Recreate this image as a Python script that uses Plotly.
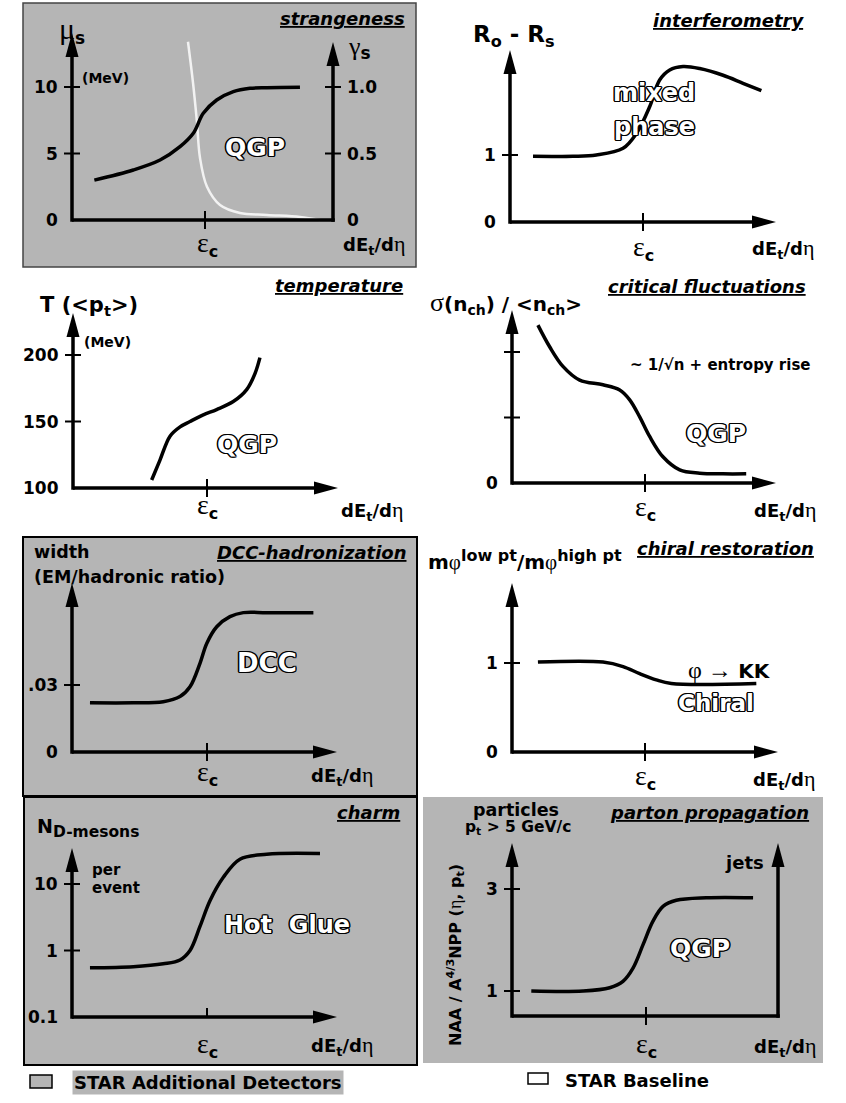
import math
import plotly.graph_objects as go

W, H = 846, 1103
FONT = "DejaVu Sans"
GRAY = "#b5b5b5"

# ---------------- data ----------------
# x = dE_t/deta in units of eps_c (eps_c = 1)
EPS_C = 1.0

# strangeness: gamma_s (black, right axis) and mu_s (white, left axis, MeV)
strange_gamma_x = [0.168, 0.461, 0.662, 0.812, 0.912, 0.987, 1.088, 1.213, 1.338, 1.464, 1.714]
strange_gamma = [0.30, 0.376, 0.451, 0.551, 0.652, 0.802, 0.902, 0.965, 0.99, 0.995, 0.998]
strange_mu_x = [0.872, 0.91, 0.94, 0.962, 1.015, 1.113, 1.263, 1.466, 1.714, 1.865]
strange_mu = [13.4, 10.3, 7.3, 4.7, 2.5, 1.13, 0.53, 0.38, 0.23, 0.0]
strange_mu_ticks = [5, 10]
strange_gamma_ticks = [0.5, 1.0]

# interferometry: R_o - R_s
interf_x = [0.173, 0.474, 0.649, 0.850, 0.950, 1.050, 1.125, 1.201, 1.301, 1.426, 1.602, 1.752, 1.890]
interf_y = [0.98, 0.98, 1.0, 1.10, 1.32, 1.72, 2.12, 2.27, 2.32, 2.29, 2.19, 2.07, 1.96]
interf_ticks = [1]

# temperature: T (<p_t>) in MeV
temp_x = [0.587, 0.649, 0.724, 0.799, 0.873, 0.972, 1.072, 1.196, 1.296, 1.358, 1.395]
temp_T = [106, 121, 139, 146, 150, 155, 159, 165, 174, 186, 198]
temp_ticks = [150, 200]

# critical fluctuations: sigma(n_ch)/<n_ch>
fluct_x = [0.195, 0.283, 0.383, 0.509, 0.684, 0.810, 0.885, 0.960, 1.035, 1.135, 1.261, 1.411, 1.586, 1.761]
fluct_y = [2.41, 2.08, 1.78, 1.57, 1.50, 1.42, 1.27, 1.01, 0.71, 0.40, 0.20, 0.15, 0.14, 0.14]
fluct_ticks = [1, 2]

# DCC-hadronization: width (EM/hadronic ratio)
dcc_x = [0.133, 0.454, 0.676, 0.8, 0.874, 0.948, 0.998, 1.072, 1.170, 1.269, 1.442, 1.788]
dcc_w = [0.0220, 0.0220, 0.0225, 0.0248, 0.0292, 0.0397, 0.0486, 0.0561, 0.0606, 0.0624, 0.0624, 0.0624]
dcc_ticks = [0.03]

# chiral restoration: m_phi(low pt)/m_phi(high pt)
chiral_x = [0.195, 0.684, 0.835, 0.960, 1.085, 1.198, 1.837]
chiral_r = [1.01, 1.01, 0.96, 0.88, 0.81, 0.77, 0.77]
chiral_ticks = [1]

# charm: N_D-mesons per event (log)
charm_x = [0.133, 0.454, 0.676, 0.8, 0.874, 0.948, 1.022, 1.121, 1.244, 1.442, 1.837]
charm_n = [0.55, 0.57, 0.63, 0.72, 1.0, 2.3, 5.6, 12.6, 23.6, 28.0, 28.7]
charm_ticks = [1, 10]

# parton propagation: N_AA / A^4/3 N_pp
parton_x = [0.144, 0.530, 0.729, 0.828, 0.903, 0.978, 1.052, 1.127, 1.226, 1.450, 1.799]
parton_r = [1.0, 1.0, 1.065, 1.19, 1.45, 1.91, 2.37, 2.66, 2.78, 2.83, 2.83]
parton_ticks = [1, 3]

# ---------------- helpers ----------------
fig = go.Figure()
layout = {}
shapes = []
annos = []


class P:
    pass


def panel(n, box, origin, ux, uy, y0=0.0, ylog=False):
    L, R, T, B = box
    ox, oy = origin
    p = P()
    p.xr = 'x' if n == 1 else f'x{n}'
    p.yr = 'y' if n == 1 else f'y{n}'
    p.ox, p.oy, p.ux, p.uy, p.y0, p.log = ox, oy, ux, uy, y0, ylog
    p.y0s = 10 ** y0 if ylog else y0          # origin value in data units (for shapes)
    layout['xaxis' if n == 1 else f'xaxis{n}'] = dict(
        domain=[L / W, R / W], range=[(L - ox) / ux, (R - ox) / ux],
        visible=False, fixedrange=True, anchor=p.yr)
    layout['yaxis' if n == 1 else f'yaxis{n}'] = dict(
        domain=[1 - B / H, 1 - T / H], range=[y0 - (B - oy) / uy, y0 + (oy - T) / uy],
        visible=False, fixedrange=True, anchor=p.xr, type='log' if ylog else 'linear')
    return p


def X(p, px):
    return (px - p.ox) / p.ux


def Ys(p, py):
    # pixel row -> y data value usable by shapes (data units, also on log axes)
    v = p.y0 + (p.oy - py) / p.uy
    return 10 ** v if p.log else v


def V(p, v):
    # data value -> annotation coordinate (log10 on log axes)
    return math.log10(v) if p.log else v


LW = 3.5


def vaxis(p, xd, tip_py, arrow=True):
    shapes.append(dict(type='line', xref=p.xr, yref=p.yr, x0=xd, x1=xd,
                       y0=Ys(p, p.oy + LW / 2), y1=Ys(p, tip_py + (12 if arrow else 0)),
                       line=dict(color='black', width=LW)))
    if arrow:
        shapes.append(dict(type='path', xref=p.xr, yref=p.yr, xsizemode='pixel', ysizemode='pixel',
                           xanchor=xd, yanchor=Ys(p, tip_py), path='M-6.5,-24 L6.5,-24 L0,0 Z',
                           fillcolor='black', line=dict(width=0)))


def haxis(p, end_px, arrow=True):
    x1 = X(p, end_px - 12) if arrow else X(p, end_px + LW / 2)
    shapes.append(dict(type='line', xref=p.xr, yref=p.yr, x0=0, x1=x1, y0=p.y0s, y1=p.y0s,
                       line=dict(color='black', width=LW)))
    if arrow:
        shapes.append(dict(type='path', xref=p.xr, yref=p.yr, xsizemode='pixel', ysizemode='pixel',
                           xanchor=X(p, end_px), yanchor=p.y0s, path='M-24,-6.5 L-24,6.5 L0,0 Z',
                           fillcolor='black', line=dict(width=0)))


def ytick(p, v, xd=0.0, yref=None, half=8):
    shapes.append(dict(type='line', xref=p.xr, yref=yref or p.yr, xsizemode='pixel', xanchor=xd,
                       x0=-half, x1=half, y0=v, y1=v, line=dict(color='black', width=2)))


def xtick(p, v):
    shapes.append(dict(type='line', xref=p.xr, yref=p.yr, ysizemode='pixel', yanchor=p.y0s,
                       y0=-9, y1=9, x0=v, x1=v, line=dict(color='black', width=2)))


def ylab(p, v, s, gap=12, xd=0.0, side='left', yref=None, raw=False):
    annos.append(dict(xref=p.xr, yref=yref or p.yr, x=xd, y=v if raw else V(p, v),
                      text=f'<b>{s}</b>', showarrow=False,
                      xanchor='right' if side == 'left' else 'left', yanchor='middle',
                      xshift=-gap if side == 'left' else gap,
                      font=dict(family=FONT, size=17, color='black')))


SHADOW = ("1px 1px 0 #000, -1px -1px 0 #000, 1px -1px 0 #000, -1px 1px 0 #000, "
          "0 1.4px 0 #000, 1.4px 0 0 #000, 0 -1.4px 0 #000, -1.4px 0 0 #000")


def T(px, py, s, size, anchor='center', outline=False, angle=0, bg=None):
    f = dict(family=FONT, size=size, color='white' if outline else 'black')
    if outline:
        f['shadow'] = SHADOW
    a = dict(xref='paper', yref='paper', x=px / W, y=1 - py / H, text=s, showarrow=False,
             xanchor=anchor, yanchor='middle', font=f, textangle=angle)
    if bg:
        a['bgcolor'] = bg
    annos.append(a)


def G(s, size):
    return (f'<span style="font-family:Liberation Serif;font-weight:normal;font-size:{size}px">'
            f'{s}</span>')


def S(s, size):
    return f'<span style="font-size:{size}px">{s}</span>'


def title(px, py, s):
    T(px, py, f'<b><i><u>{s}</u></i></b>', 18, anchor='right')


EPS = f'{G("ε", 28)}<sub><b>{S("c", 16)}</b></sub>'
DED = f'<b>dE<sub>{S("t", 13)}</sub>/d</b>{G("η", 22)}'


def curve(p, xs, ys, color='black', width=3.5, yaxis=None):
    fig.add_trace(go.Scatter(x=xs, y=ys, xaxis=p.xr, yaxis=yaxis or p.yr, mode='lines',
                             line=dict(color=color, width=width, shape='spline', smoothing=1.0),
                             hoverinfo='skip', showlegend=False))


def box(L, T_, R, B, fill, lc, lw):
    shapes.append(dict(type='rect', xref='paper', yref='paper', x0=L / W, x1=R / W,
                       y0=1 - B / H, y1=1 - T_ / H, fillcolor=fill, layer='below',
                       line=dict(color=lc, width=lw)))


# ---------------- background boxes ----------------
box(23, 3, 416, 267, GRAY, '#444', 1.5)
box(23, 537, 417, 796, GRAY, 'black', 2)
box(24, 797, 417, 1065, GRAY, 'black', 2)
box(423, 797, 823, 1063, GRAY, GRAY, 0)

# ---------------- panel 1: strangeness ----------------
p1 = panel(1, (23, 416, 3, 267), (72, 220), 133, 13.3)
layout['yaxis9'] = dict(overlaying='y', anchor='x', visible=False, fixedrange=True,
                        range=[r * 0.1 for r in layout['yaxis']['range']])
curve(p1, strange_mu_x, strange_mu, color='#f2f2f2', width=2.5)
curve(p1, strange_gamma_x, strange_gamma, yaxis='y9')
vaxis(p1, 0, 33)
xr1 = X(p1, 333)
vaxis(p1, xr1, 42)
haxis(p1, 333, arrow=False)
xtick(p1, EPS_C)
for v in strange_mu_ticks:
    ytick(p1, v)
    ylab(p1, v, str(v))
ylab(p1, 0, '0')
for v in strange_gamma_ticks:
    ytick(p1, v, xd=xr1, yref='y9')
    ylab(p1, v, f'{v:.1f}', xd=xr1, side='right', yref='y9', raw=True)
ylab(p1, 0, '0', xd=xr1, side='right')
T(72, 30, f'{G("μ", 30)}<sub><b>{S("s", 17)}</b></sub>', 22)
T(80, 78, '<b>(MeV)</b>', 14, anchor='left')
T(346, 47, f'{G("γ", 26)}<sub><b>{S("s", 17)}</b></sub>', 20, anchor='left')
T(207, 244, EPS, 22)
T(407, 244, DED, 18, anchor='right')
title(407, 19, 'strangeness')
T(255, 147, '<b>QGP</b>', 25, outline=True)

# ---------------- panel 2: interferometry ----------------
p2 = panel(2, (423, 846, 0, 268), (510, 222), 133, 67)
curve(p2, interf_x, interf_y)
vaxis(p2, 0, 50)
haxis(p2, 776)
xtick(p2, EPS_C)
for v in interf_ticks:
    ytick(p2, v)
    ylab(p2, v, str(v))
ylab(p2, 0, '0')
T(514, 36, '<b>R<sub>o</sub> - R<sub>s</sub></b>', 23)
title(806, 21, 'interferometry')
T(643, 248, EPS, 22)
T(816, 248, DED, 18, anchor='right')
T(654, 93, '<b>mixed</b>', 24, outline=True)
T(654, 127, '<b>phase</b>', 24, outline=True)

# ---------------- panel 3: temperature ----------------
p3 = panel(3, (0, 423, 270, 528), (73, 488), 134, 66.5 / 50, y0=100)
curve(p3, temp_x, temp_T)
vaxis(p3, 0, 313)
haxis(p3, 338)
xtick(p3, EPS_C)
for v in temp_ticks:
    ytick(p3, v)
    ylab(p3, v, str(v))
ylab(p3, 100, '100')
T(38, 306, '<b>T (&lt;p<sub>t</sub>&gt;)</b>', 21, anchor='left')
T(82, 342, '<b>(MeV)</b>', 14, anchor='left')
title(405, 285, 'temperature')
T(207, 506, EPS, 22)
T(405, 510, DED, 18, anchor='right')
T(247, 445, '<b>QGP</b>', 25, outline=True)

# ---------------- panel 4: critical fluctuations ----------------
p4 = panel(4, (423, 846, 270, 528), (512, 483), 133, 65.5)
curve(p4, fluct_x, fluct_y)
vaxis(p4, 0, 310)
haxis(p4, 776)
xtick(p4, EPS_C)
for v in fluct_ticks:
    ytick(p4, v)
ylab(p4, 0, '0')
T(428, 303, f'{G("σ", 26)}<b>(n<sub>ch</sub>) / &lt;n<sub>ch</sub>&gt;</b>', 20, anchor='left')
title(808, 287, 'critical fluctuations')
T(628, 365, '<b>~ 1/√n + entropy rise</b>', 15, anchor='left')
T(716, 433, '<b>QGP</b>', 25, outline=True)
T(645, 508, EPS, 22)
T(818, 510, DED, 18, anchor='right')

# ---------------- panel 5: DCC-hadronization ----------------
p5 = panel(5, (23, 417, 537, 795), (72, 752), 135, 67 / 0.03)
curve(p5, dcc_x, dcc_w)
vaxis(p5, 0, 583)
haxis(p5, 337)
xtick(p5, EPS_C)
for v in dcc_ticks:
    ytick(p5, v)
    ylab(p5, v, '.03')
ylab(p5, 0, '0')
T(32, 552, '<b>width</b>', 17.5, anchor='left')
T(32, 577, '<b>(EM/hadronic ratio)</b>', 17.5, anchor='left')
title(408, 552, 'DCC-hadronization')
T(207, 773, EPS, 22)
T(375, 775, DED, 18, anchor='right')
T(267, 663, '<b>DCC</b>', 26, outline=True)

# ---------------- panel 6: chiral restoration ----------------
p6 = panel(6, (423, 846, 530, 795), (512, 752), 133, 89)
curve(p6, chiral_x, chiral_r)
vaxis(p6, 0, 583)
haxis(p6, 778)
xtick(p6, EPS_C)
for v in chiral_ticks:
    ytick(p6, v)
    ylab(p6, v, str(v))
ylab(p6, 0, '0')
T(426, 560,
  f'<b>m</b>{G("φ", 21)}<b><sup>{S("low pt", 16)}</sup>/m</b>{G("φ", 21)}'
  f'<b><sup>{S("high pt", 16)}</sup></b>', 20, anchor='left')
title(816, 548, 'chiral restoration')
T(686, 670, f'{G("φ →", 24)} <b>KK</b>', 20, anchor='left')
T(716, 703, '<b>Chiral</b>', 23, outline=True)
T(645, 777, EPS, 22)
T(817, 779, DED, 18, anchor='right')

# ---------------- panel 7: charm ----------------
p7 = panel(7, (24, 417, 797, 1065), (72, 1017), 135, 66.5, y0=-1, ylog=True)
curve(p7, charm_x, charm_n)
vaxis(p7, 0, 848)
haxis(p7, 337)
xtick(p7, EPS_C)
for v in charm_ticks:
    ytick(p7, v)
    ylab(p7, v, str(v))
ylab(p7, 0.1, '0.1')
T(35, 826, '<b>N</b>', 19, anchor='left')
T(51, 832, '<b>D-mesons</b>', 15.5, anchor='left')
T(90, 870, '<b>per</b>', 15, anchor='left')
T(90, 888, '<b>event</b>', 15, anchor='left')
title(402, 812, 'charm')
T(207, 1045, EPS, 22)
T(375, 1045, DED, 18, anchor='right')
T(287, 925, '<b>Hot\u00a0 Glue</b>', 24, outline=True)

# ---------------- panel 8: parton propagation ----------------
p8 = panel(8, (423, 823, 797, 1063), (512, 1016), 134, 51, y0=0.51)
curve(p8, parton_x, parton_r)
vaxis(p8, 0, 843)
xr8 = X(p8, 778)
vaxis(p8, xr8, 843)
haxis(p8, 778, arrow=False)
xtick(p8, EPS_C)
for v in parton_ticks:
    ytick(p8, v)
    ylab(p8, v, str(v))
T(516, 810, '<b>particles</b>', 17.5)
T(518, 828, '<b>p<sub>t</sub> &gt; 5 GeV/c</b>', 15.5)
title(811, 812, 'parton propagation')
T(766, 863, '<b>jets</b>', 18, anchor='right')
T(455, 955, f'<b>NAA / A<sup>4/3</sup>NPP (</b>{G("η", 18)}<b>, p<sub>t</sub>)</b>', 16, angle=-90)
T(646, 1045, EPS, 22)
T(818, 1046, DED, 18, anchor='right')
T(700, 948, '<b>QGP</b>', 25, outline=True)

# ---------------- legend ----------------
shapes.append(dict(type='rect', xref='paper', yref='paper', x0=30 / W, x1=52 / W,
                   y0=1 - 1088 / H, y1=1 - 1075 / H, fillcolor=GRAY, line=dict(color='black', width=1.5)))
T(72, 1082, '<b>STAR Additional Detectors</b>', 18, anchor='left', bg=GRAY)
shapes.append(dict(type='rect', xref='paper', yref='paper', x0=528 / W, x1=548 / W,
                   y0=1 - 1084 / H, y1=1 - 1073 / H, fillcolor='white', line=dict(color='black', width=1.5)))
T(563, 1080, '<b>STAR Baseline</b>', 18, anchor='left')

fig.update_layout(width=W, height=H, margin=dict(l=0, r=0, t=0, b=0), autosize=False,
                  paper_bgcolor='white', plot_bgcolor='rgba(0,0,0,0)', showlegend=False,
                  shapes=shapes, annotations=annos, font=dict(family=FONT), **layout)
fig.write_html("out.html", config=dict(displayModeBar=False, staticPlot=True))
